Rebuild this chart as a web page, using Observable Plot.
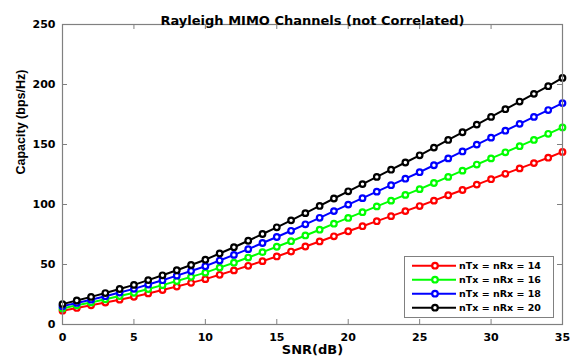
<!DOCTYPE html>
<html><head><meta charset="utf-8">
<script src="https://cdn.jsdelivr.net/npm/d3@7"></script>
<script src="https://cdn.jsdelivr.net/npm/@observablehq/plot@0.6"></script>
<style>
body{margin:0;background:#fff;}
#wrap{position:relative;width:577px;height:360px;overflow:hidden;}
</style></head><body><div id="wrap"></div>
<script>
const snrDb = [0,1,2,3,4,5,6,7,8,9,10,11,12,13,14,15,16,17,18,19,20,21,22,23,24,25,26,27,28,29,30,31,32,33,34,35];
const cap14 = [11.5,13.8,16.0,18.3,20.7,23.1,25.9,28.7,31.6,34.7,37.8,41.4,45.1,48.9,52.8,56.7,60.8,65.0,69.2,73.5,77.7,81.9,86.1,90.3,94.5,98.7,103.2,107.7,112.1,116.6,121.1,125.6,130.1,134.5,139.0,143.8];
const cap16 = [13.4,16.0,18.4,21.0,23.7,26.4,29.6,32.8,36.2,39.7,43.2,47.4,51.5,55.8,60.3,64.8,69.4,74.2,79.0,84.0,88.8,93.6,98.4,103.2,108.0,112.8,117.9,123.0,128.2,133.3,138.4,143.5,148.6,153.8,158.9,164.2];
const cap18 = [15.3,18.0,20.7,23.6,26.6,29.7,33.3,36.9,40.7,44.6,48.6,53.3,58.0,62.8,67.9,72.9,78.1,83.5,88.9,94.5,99.9,105.3,110.7,116.1,121.5,126.9,132.7,138.4,144.2,149.9,155.7,161.5,167.2,173.0,178.7,184.5];
const cap20 = [17.0,20.0,23.0,26.2,29.6,33.0,37.0,41.0,45.2,49.6,54.0,59.2,64.4,69.8,75.4,81.0,86.8,92.8,98.8,105.0,111.0,117.0,123.0,129.0,135.0,141.0,147.4,153.8,160.2,166.6,173.0,179.4,185.8,192.2,198.6,205.5];
const seriesLabels = ["nTx = nRx = 14","nTx = nRx = 16","nTx = nRx = 18","nTx = nRx = 20"];
const xTicks = [0,5,10,15,20,25,30,35];
const yTicks = [0,50,100,150,200,250];
const titleText = "Rayleigh MIMO Channels (not Correlated)";
const xLabel = "SNR(dB)";
const yLabel = "Capacity (bps/Hz)";

const W = 577, H = 360, mL = 62, mR = 15, mT = 24, mB = 36;
const innerW = W - mL - mR, innerH = H - mT - mB, tick = 5;
const colors = ["#ff0000", "#00ff00", "#0000ff", "#000000"];
const axisColor = "#808080";
const seriesValues = [cap14, cap16, cap18, cap20];
const rows = seriesLabels.flatMap((s, i) => snrDb.map((x, j) => ({snr: x, cap: seriesValues[i][j], series: s})));

const seriesMarks = [];
seriesLabels.forEach((s) => {
  const d = rows.filter(r => r.series === s);
  seriesMarks.push(Plot.line(d, {x: "snr", y: "cap", stroke: "series", strokeWidth: 2}));
  seriesMarks.push(Plot.dot(d, {x: "snr", y: "cap", stroke: "series", fill: "white", r: 2.8, strokeWidth: 2.2}));
});

const plot = Plot.plot({
  width: W, height: H,
  marginLeft: mL, marginRight: mR, marginTop: mT, marginBottom: mB,
  style: {fontFamily: "'DejaVu Sans', sans-serif", fontSize: "11px", fontWeight: "bold", color: "#000", background: "#fff", overflow: "visible"},
  x: {domain: [0, 35], label: null},
  y: {domain: [0, 250], label: null},
  color: {domain: seriesLabels, range: colors},
  marks: [
    Plot.tickX(xTicks, {x: d => d, insetTop: innerH - tick, stroke: axisColor}),
    Plot.tickX(xTicks, {x: d => d, insetBottom: innerH - tick, stroke: axisColor}),
    Plot.tickY(yTicks, {y: d => d, insetRight: innerW - tick, stroke: axisColor}),
    Plot.tickY(yTicks, {y: d => d, insetLeft: innerW - tick, stroke: axisColor}),
    Plot.axisX({ticks: xTicks, tickSize: 0, tickPadding: 9, label: null, fill: "#000"}),
    Plot.axisY({ticks: yTicks, tickSize: 0, tickPadding: 7, label: null, fill: "#000"}),
    ...seriesMarks,
    Plot.frame({stroke: axisColor, strokeWidth: 1.2}),
    Plot.text([titleText], {text: d => d, frameAnchor: "top", dy: -9, fontSize: 13, fontWeight: "bold", fill: "#000"}),
    Plot.text([xLabel], {text: d => d, frameAnchor: "bottom", dy: 29, fontSize: 13, fontWeight: "bold", fill: "#000"}),
    Plot.text([yLabel], {text: d => d, frameAnchor: "left", dx: -41.5, rotate: -90, fontSize: 12.5, fontWeight: "bold", fontFamily: "'Liberation Sans', Arial, sans-serif", fill: "#000"})
  ]
});
const wrap = document.getElementById("wrap");
plot.style.position = "absolute";
plot.style.left = "0px";
plot.style.top = "0px";
wrap.appendChild(plot);

// legend overlay
const leg = d3.select("#wrap").append("div")
  .style("position", "absolute").style("left", "404px").style("top", "256px");
const ls = leg.append("svg").attr("width", 150).attr("height", 62)
  .style("font-family", "'DejaVu Sans', sans-serif").style("font-weight", "bold").style("font-size", "9.5px");
ls.append("rect").attr("x", 0.5).attr("y", 0.5).attr("width", 149).attr("height", 61)
  .attr("fill", "white").attr("stroke", axisColor);
seriesLabels.forEach((s, i) => {
  const y = 9.7 + i * 14;
  ls.append("line").attr("x1", 8).attr("x2", 52).attr("y1", y).attr("y2", y)
    .attr("stroke", colors[i]).attr("stroke-width", 2);
  ls.append("circle").attr("cx", 31).attr("cy", y).attr("r", 2.8)
    .attr("fill", "white").attr("stroke", colors[i]).attr("stroke-width", 2.2);
  ls.append("text").attr("x", 55).attr("y", y).attr("dy", "0.35em").attr("fill", "#000").text(s);
});
</script>
</body></html>
